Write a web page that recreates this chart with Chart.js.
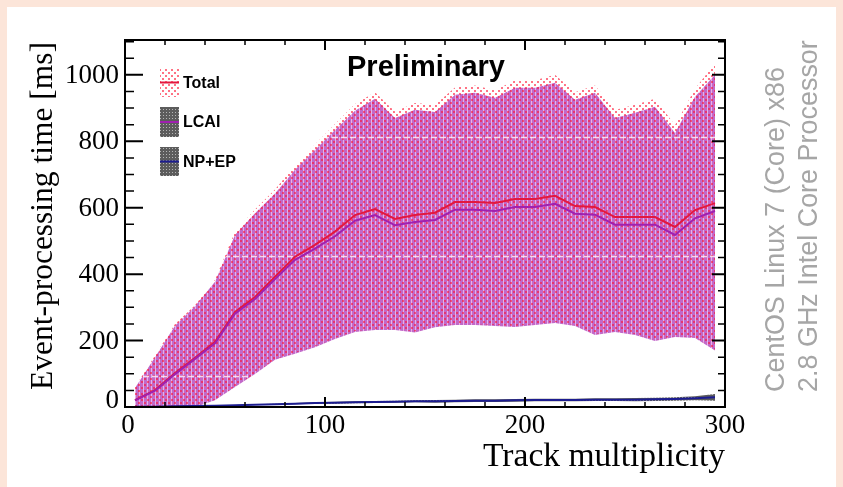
<!DOCTYPE html>
<html>
<head>
<meta charset="utf-8">
<script src="https://cdn.jsdelivr.net/npm/chart.js@4.4.0/dist/chart.umd.min.js"></script>
<style>
html, body { margin: 0; padding: 0; background: #fce5d9; overflow: hidden; }
#panel { position: absolute; left: 7px; top: 7px; width: 829px; height: 480px; background: #fff; }
#wrap { position: absolute; left: 0; top: 0; width: 843px; height: 487px; }
</style>
</head>
<body>
<div id="panel"></div>
<div id="wrap"><canvas id="myChart" width="843" height="487"></canvas></div>
<script>
// track multiplicity bin centres
const trackBins = [5,15,25,35,45,55,65,75,85,95,105,115,125,135,145,155,165,175,185,195,205,215,225,235,245,255,265,275,285,295];

// mean event-processing time [ms]
const totalTime = [21,51,102,148,196,286,331,392,452,488,528,578,596,566,578,585,617,617,614,626,626,636,605,602,572,572,572,542,593,614];
const lcaiTime  = [20,49,99,145,192,281,325,385,443,477,514,561,578,547,557,563,594,594,590,602,602,612,582,579,549,549,549,518,568,590];
const npepTime  = [0.5,1,2,3,4,5,7,8,10,12,13,14,15,16,17,17,18,19,19,20,21,21,21,22,22,22,23,24,26,29];

// spread bands
const totalUpper = [60,155,250,306,383,528,595,655,728,790,852,912,948,890,915,910,962,968,954,984,984,1000,948,968,894,910,928,848,958,1035];
const totalLower = [0,0,0,0,22,62,101,144,163,183,208,229,235,235,227,243,250,250,247,244,250,256,247,220,229,220,202,214,211,173];
const lcaiUpper  = [57,150,245,303,377,518,583,643,714,774,834,892,928,870,895,888,940,946,931,961,961,976,925,946,870,886,904,825,934,1000];
const lcaiLower  = [0,0,0,0,20,60,99,142,160,180,205,226,232,232,224,240,247,247,244,241,247,253,244,217,226,217,199,211,208,170];
const npepUpper  = [1,2,3,4,5,6,8,10,12,14,16,17,18,19,20,21,22,23,23,24,25,25,25,26,26,27,28,29,32,39];
const npepLower  = [0,0,1,2,3,4,6,6,8,10,10,11,12,13,14,13,14,15,15,16,17,17,17,18,18,17,18,19,20,19];

// dashed hatch seams visible inside the band [ms]
const seamLevels = [93, 455, 813];

const xMajor = [0,100,200,300];
const yMajor = [0,200,400,600,800,1000];

const ctx = document.getElementById('myChart');
const g2 = ctx.getContext('2d');

function makePattern(w, h, draw) {
  const c = document.createElement('canvas');
  c.width = w; c.height = h;
  draw(c.getContext('2d'));
  return g2.createPattern(c, 'repeat');
}
const magentaPat = makePattern(4, 4, g => {
  g.fillStyle = '#c268c8'; g.fillRect(0, 0, 4, 4);
  g.fillStyle = '#e4b2e8'; g.fillRect(3, 0, 1, 4);
});
const redDotPat = makePattern(6, 6, g => {
  g.fillStyle = 'rgba(255,20,50,0.6)';
  g.fillRect(0, 0, 2, 2); g.fillRect(3, 3, 2, 2);
});
const greyPat = makePattern(3, 3, g => {
  g.fillStyle = '#5c5c5c'; g.fillRect(0, 0, 3, 3);
  g.fillStyle = '#b4b4b4'; g.fillRect(1, 1, 1, 1);
});

const pts = arr => trackBins.map((x, i) => ({ x: x, y: arr[i] }));
const hidden = { borderWidth: 0, pointRadius: 0, fill: false };

function fitFont(c, text, style, family, target) {
  c.font = style + ' 100px ' + family;
  return 100 * target / c.measureText(text).width;
}

// pale dashed seams, clipped to the LCAI band
const seamPlugin = {
  id: 'seams',
  beforeDatasetDraw(chart, args) {
    if (args.index !== 2) return;
    const c = chart.ctx, a = chart.chartArea;
    const xs = chart.scales.x, ys = chart.scales.y;
    c.save();
    c.beginPath();
    trackBins.forEach((v, i) => {
      const px = xs.getPixelForValue(v), py = ys.getPixelForValue(lcaiUpper[i]);
      i ? c.lineTo(px, py) : c.moveTo(px, py);
    });
    for (let i = trackBins.length - 1; i >= 0; i--) {
      c.lineTo(xs.getPixelForValue(trackBins[i]), ys.getPixelForValue(lcaiLower[i]));
    }
    c.closePath();
    c.clip();
    c.strokeStyle = 'rgba(255,236,246,0.85)';
    c.lineWidth = 1.5;
    c.setLineDash([6, 3]);
    seamLevels.forEach(v => {
      const y = Math.round(ys.getPixelForValue(v)) + 0.5;
      c.beginPath(); c.moveTo(a.left, y); c.lineTo(a.right, y); c.stroke();
    });
    c.restore();
  }
};

const framePlugin = {
  id: 'frame',
  afterDatasetsDraw(chart) {
    const c = chart.ctx, a = chart.chartArea;
    const xs = chart.scales.x, ys = chart.scales.y;
    c.save();
    c.strokeStyle = '#000';
    // ticks (inward, on all four sides)
    for (let v = 0; v <= 1100; v += 50) {
      const y = ys.getPixelForValue(v);
      const major = yMajor.includes(v);
      c.lineWidth = major ? 2 : 1.5;
      c.beginPath();
      c.moveTo(a.left, y); c.lineTo(a.left + (major ? 18 : 9), y);
      c.moveTo(a.right, y); c.lineTo(a.right - (major ? 13 : 7), y);
      c.stroke();
    }
    for (let v = 0; v <= 300; v += 20) {
      const x = xs.getPixelForValue(v);
      const major = xMajor.includes(v);
      c.lineWidth = major ? 2 : 1.5;
      c.beginPath();
      c.moveTo(x, a.bottom); c.lineTo(x, a.bottom - (major ? 10 : 5));
      c.moveTo(x, a.top); c.lineTo(x, a.top + (major ? 10 : 5));
      c.stroke();
    }
    c.lineWidth = 2;
    c.strokeRect(a.left, a.top, a.right - a.left, a.bottom - a.top);

    // tick labels
    c.fillStyle = '#000';
    c.font = '27px "Liberation Serif"';
    c.textAlign = 'right'; c.textBaseline = 'middle';
    yMajor.forEach(v => {
      const y = ys.getPixelForValue(v);
      c.fillText(String(v), a.left - 6, v === 0 ? y - 6 : y + 1);
    });
    c.textAlign = 'center'; c.textBaseline = 'top';
    xMajor.forEach(v => {
      const x = xs.getPixelForValue(v);
      c.fillText(String(v), v === 0 ? x + 3 : x, a.bottom + 5);
    });

    // axis titles
    let fs = fitFont(c, 'Event-processing time [ms]', '', '"Liberation Serif"', 348);
    c.save();
    c.translate(44, 216);
    c.rotate(-Math.PI / 2);
    c.font = fs + 'px "Liberation Serif"';
    c.textAlign = 'center'; c.textBaseline = 'middle';
    c.fillText('Event-processing time [ms]', 0, 0);
    c.restore();

    fs = fitFont(c, 'Track multiplicity', '', '"Liberation Serif"', 242);
    c.font = fs + 'px "Liberation Serif"';
    c.textAlign = 'right'; c.textBaseline = 'alphabetic';
    c.fillText('Track multiplicity', a.right, 466);

    // Preliminary
    fs = fitFont(c, 'Preliminary', 'bold', '"Liberation Sans"', 158);
    c.font = 'bold ' + fs + 'px "Liberation Sans"';
    c.textAlign = 'center'; c.textBaseline = 'middle';
    c.fillText('Preliminary', 426, 68);

    // side note
    fs = fitFont(c, '2.8 GHz Intel Core Processor', '', '"Liberation Sans"', 352);
    c.fillStyle = '#a6a6a6';
    c.font = fs + 'px "Liberation Sans"';
    c.textAlign = 'left'; c.textBaseline = 'middle';
    [['CentOS Linux 7 (Core) x86', 777], ['2.8 GHz Intel Core Processor', 810]].forEach(([t, x]) => {
      c.save(); c.translate(x, 392); c.rotate(-Math.PI / 2);
      c.fillText(t, 0, 0); c.restore();
    });

    // legend
    const entries = [
      { text: 'Total', fill: redDotPat, line: '#e3173e', y: 68, h: 29 },
      { text: 'LCAI', fill: greyPat, line: '#a020b0', y: 107, h: 30 },
      { text: 'NP+EP', fill: greyPat, line: '#1c1c90', y: 147, h: 29 }
    ];
    entries.forEach(e => {
      c.fillStyle = e.fill;
      c.fillRect(160, e.y, 19, e.h);
      const my = e.y + e.h / 2;
      c.strokeStyle = e.line; c.lineWidth = 2;
      c.beginPath(); c.moveTo(160, my); c.lineTo(179, my); c.stroke();
      c.fillStyle = '#000';
      c.font = 'bold 16px "Liberation Sans"';
      c.textAlign = 'left'; c.textBaseline = 'middle';
      c.fillText(e.text, 183, my + 1);
    });
    c.restore();
  }
};

new Chart(ctx, {
  type: 'line',
  data: {
    datasets: [
      Object.assign({ label: 'lcai lo', data: pts(lcaiLower), order: 9 }, hidden),
      { label: 'LCAI band', data: pts(lcaiUpper), order: 9, borderWidth: 0, pointRadius: 0, fill: '-1', backgroundColor: magentaPat },
      Object.assign({ label: 'total lo', data: pts(totalLower), order: 8 }, hidden),
      { label: 'Total band', data: pts(totalUpper), order: 8, borderWidth: 0, pointRadius: 0, fill: '-1', backgroundColor: redDotPat },
      Object.assign({ label: 'npep lo', data: pts(npepLower), order: 7 }, hidden),
      { label: 'NP+EP band', data: pts(npepUpper), order: 7, borderWidth: 0, pointRadius: 0, fill: '-1', backgroundColor: greyPat },
      { label: 'NP+EP', data: pts(npepTime), order: 3, borderColor: '#1c1c90', borderWidth: 2, pointRadius: 0, fill: false },
      { label: 'Total', data: pts(totalTime), order: 2, borderColor: '#e3173e', borderWidth: 2, pointRadius: 0, fill: false },
      { label: 'LCAI', data: pts(lcaiTime), order: 1, borderColor: '#a020b0', borderWidth: 2, pointRadius: 0, fill: false }
    ]
  },
  options: {
    responsive: false,
    animation: false,
    layout: { padding: { left: 0, top: 40, right: 118, bottom: 0 } },
    elements: { line: { tension: 0 } },
    plugins: { legend: { display: false }, tooltip: { enabled: false } },
    scales: {
      x: {
        type: 'linear', min: 0, max: 300,
        grid: { display: false }, border: { display: false },
        ticks: { display: false },
        afterFit: s => { s.height = 80; }
      },
      y: {
        type: 'linear', min: 0, max: 1105,
        grid: { display: false }, border: { display: false },
        ticks: { display: false },
        afterFit: s => { s.width = 125; }
      }
    }
  },
  plugins: [seamPlugin, framePlugin]
});
</script>
</body>
</html>
